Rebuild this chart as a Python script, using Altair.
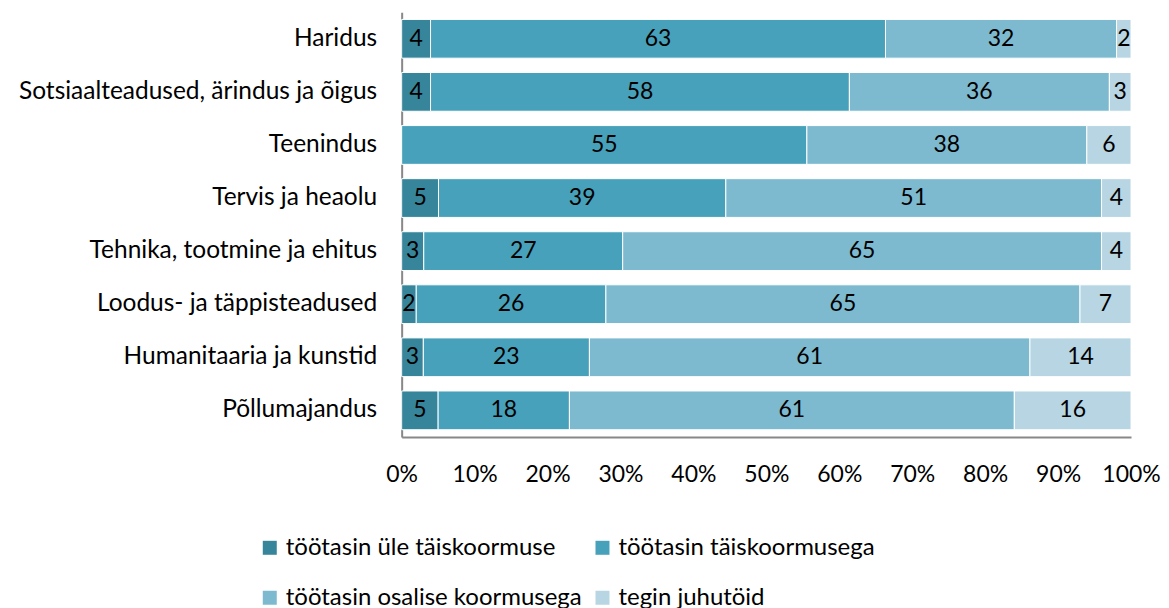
import altair as alt
import pandas as pd

categories = [
    "Haridus",
    "Sotsiaalteadused, ärindus ja õigus",
    "Teenindus",
    "Tervis ja heaolu",
    "Tehnika, tootmine ja ehitus",
    "Loodus- ja täppisteadused",
    "Humanitaaria ja kunstid",
    "Põllumajandus",
]
series = [
    "töötasin üle täiskoormuse",
    "töötasin täiskoormusega",
    "töötasin osalise koormusega",
    "tegin juhutöid",
]
over_full = [4, 4, 0, 5, 3, 2, 3, 5]
full = [63, 58, 55, 39, 27, 26, 23, 18]
partial = [32, 36, 38, 51, 65, 65, 61, 61]
casual = [2, 3, 6, 4, 4, 7, 14, 16]
colors = ["#37859A", "#48A1BA", "#7DBAD0", "#B7D5E2"]

rows = []
for i, c in enumerate(categories):
    for j, vals in enumerate([over_full, full, partial, casual]):
        rows.append({"cat": c, "series": series[j], "ord": j, "value": vals[i]})
df = pd.DataFrame(rows)

FONT = "Lato"

base = alt.Chart(df).transform_stack(
    stack="value", groupby=["cat"], as_=["v0", "v1"], offset="normalize",
    sort=[alt.SortField("ord", order="ascending")],
).transform_calculate(mid="(datum.v0 + datum.v1) / 2")

y_enc = alt.Y(
    "cat:N", sort=categories, title=None,
    scale=alt.Scale(paddingInner=0.27, paddingOuter=0.135),
    axis=alt.Axis(labelFontSize=24.5, labelFont=FONT, labelColor="#000000",
                  ticks=False, labelPadding=25, minExtent=394, maxExtent=394,
                  domainColor="#888888", domainWidth=2, labelLimit=400),
)

bars = base.mark_bar(stroke="white", strokeWidth=1).encode(
    x=alt.X("v0:Q", title=None, scale=alt.Scale(domain=[0, 1]),
            axis=alt.Axis(format="%", values=[i / 10 for i in range(11)],
                          labelFontSize=23, labelFont=FONT, labelColor="#000000",
                          ticks=False, grid=False, labelPadding=27,
                          domainColor="#888888", domainWidth=2, labelFlush=False)),
    x2="v1:Q",
    y=y_enc,
    color=alt.Color("series:N", sort=series,
                    scale=alt.Scale(domain=series, range=colors),
                    legend=alt.Legend(title=None, orient="none", legendX=-144, legendY=524,
                                      direction="horizontal",
                                      columns=2, symbolType="square", symbolSize=196,
                                      symbolStrokeWidth=0, labelFontSize=24, labelFont=FONT,
                                      labelColor="#000000", rowPadding=26, columnPadding=8,
                                      labelOffset=4, labelLimit=400)),
)

labels = base.transform_filter("datum.value > 0").mark_text(
    fontSize=23, font=FONT, color="#000000"
).encode(
    x="mid:Q",
    y=alt.Y("cat:N", sort=categories),
    text="value:Q",
)

chart = (bars + labels).properties(
    width=730, height=425,
    padding={"left": 0, "top": 4, "right": 0, "bottom": 0},
).configure_view(stroke=None)

chart.save("out.html", embed_options={"renderer": "svg", "actions": False})
